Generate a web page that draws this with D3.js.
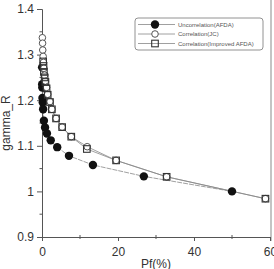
<!DOCTYPE html>
<html>
<head>
<meta charset="utf-8">
<script src="https://cdn.jsdelivr.net/npm/d3@7"></script>
<style>
body{margin:0;background:#fff;}
text{font-family:"Liberation Sans",Arial,sans-serif;}
</style>
</head>
<body>
<div id="chart"></div>
<script>
// data
var uncorrPf = [0.03, 0.05, 0.08, 0.12, 0.2, 0.3, 0.5, 0.8, 1.3, 2.3, 4.0, 7.1, 13.4, 26.8, 50];
var uncorrG  = [1.272, 1.235, 1.228, 1.205, 1.195, 1.180, 1.155, 1.140, 1.127, 1.112, 1.097, 1.078, 1.058, 1.033, 1.000];

var jcPf = [0.1, 0.15, 0.2, 0.3, 0.4, 0.5, 0.7, 0.9, 1.2, 1.5, 2.1, 2.6, 3.7, 5.3, 7.7, 11.9, 19.5, 32.8, 58.8];
var jcG  = [1.337, 1.325, 1.31, 1.296, 1.283, 1.27, 1.255, 1.242, 1.228, 1.213, 1.197, 1.180, 1.160, 1.141, 1.120, 1.098, 1.068, 1.032, 0.984];

var impPf = [0.3, 0.4, 0.5, 0.7, 0.9, 1.2, 1.5, 2.1, 2.6, 3.7, 5.3, 7.7, 11.8, 19.5, 32.8, 58.8];
var impG  = [1.285, 1.275, 1.262, 1.25, 1.24, 1.226, 1.212, 1.196, 1.180, 1.160, 1.141, 1.120, 1.093, 1.068, 1.032, 0.984];

var legendNames = ["Uncorrelation(AFDA)", "Correlation(JC)", "Correlation(Improved AFDA)"];
var xTicks = [0, 20, 40, 60];
var yTicks = [0.9, 1, 1.1, 1.2, 1.3, 1.4];

var margin = {top: 9, right: 4, bottom: 32, left: 42},
    width = 274 - margin.left - margin.right,
    height = 269 - margin.top - margin.bottom;

var svg = d3.select("#chart").append("svg")
    .attr("width", 274)
    .attr("height", 269)
  .append("g")
    .attr("transform", "translate(" + margin.left + "," + margin.top + ")");

var x = d3.scaleLinear().domain([0, 60]).range([0, 228]);
var y = d3.scaleLinear().domain([0.9, 1.4]).range([228, 0]);

var axisCol = "#555";

// faint right edge
svg.append("line")
  .attr("x1", x(60) + 1).attr("x2", x(60) + 1)
  .attr("y1", -margin.top).attr("y2", y(0.9) + 4)
  .attr("stroke", "#c4c4c4").attr("stroke-width", 2);

// left and bottom axes
var xAxis = svg.append("g")
    .attr("transform", "translate(0," + y(0.9) + ")")
    .call(d3.axisBottom(x).tickValues(xTicks).tickSize(4).tickFormat(d3.format("d")));
var yAxis = svg.append("g")
    .call(d3.axisLeft(y).tickValues(yTicks).tickSize(5).tickFormat(function(d){ return d === 1 ? "1" : d3.format(".1f")(d); }));

[xAxis, yAxis].forEach(function(a){
  a.select(".domain").attr("stroke", axisCol);
  a.selectAll(".tick line").attr("stroke", axisCol);
  a.selectAll(".tick text").attr("fill", "#333").style("font-size", "12px");
});
xAxis.selectAll(".tick text").attr("dy", "1.0em");

// minor ticks
svg.append("g").selectAll("line")
  .data([10, 30, 50]).enter().append("line")
  .attr("x1", function(d){ return x(d); }).attr("x2", function(d){ return x(d); })
  .attr("y1", y(0.9) - 2).attr("y2", y(0.9) + 2)
  .attr("stroke", axisCol);
svg.append("g").selectAll("line")
  .data([0.95, 1.05, 1.15, 1.25, 1.35]).enter().append("line")
  .attr("x1", -2.5).attr("x2", 0)
  .attr("y1", function(d){ return y(d); }).attr("y2", function(d){ return y(d); })
  .attr("stroke", axisCol);

// axis labels
svg.append("text")
  .attr("x", x(30)).attr("y", y(0.9) + 31)
  .attr("text-anchor", "middle")
  .style("font-size", "12px").attr("fill", "#333")
  .text("Pf(%)");
svg.append("text")
  .attr("transform", "translate(" + (-32) + "," + y(1.15) + ")rotate(-90)")
  .attr("text-anchor", "middle")
  .style("font-size", "12px").attr("fill", "#333")
  .text("gamma_R");

var line = d3.line().x(function(d){ return x(d[0]); }).y(function(d){ return y(d[1]); });

var series = [
  {pf: uncorrPf, g: uncorrG, shape: "filled"},
  {pf: jcPf, g: jcG, shape: "circle"},
  {pf: impPf, g: impG, shape: "square"}
];

series.forEach(function(s){
  var pts = s.pf.map(function(p, i){ return [p, s.g[i]]; });
  svg.append("path")
    .datum(pts.slice().sort(function(a, b){ return a[0] - b[0]; }))
    .attr("d", line)
    .attr("fill", "none")
    .attr("stroke", "#888")
    .attr("stroke-width", 0.8)
    .attr("stroke-dasharray", s.shape === "filled" ? "5,1" : null);
  s.pts = pts;
});

function drawMarker(g, shape, cx, cy){
  if (shape === "filled") {
    g.append("circle").attr("cx", cx).attr("cy", cy).attr("r", 4.2).attr("fill", "#111");
  } else if (shape === "circle") {
    g.append("circle").attr("cx", cx).attr("cy", cy).attr("r", 3.3)
      .attr("fill", "#fff").attr("stroke", "#555").attr("stroke-width", 1);
  } else {
    g.append("rect").attr("x", cx - 3.3).attr("y", cy - 3.3).attr("width", 6.6).attr("height", 6.6)
      .attr("fill", "none").attr("stroke", "#333").attr("stroke-width", 1.1);
  }
}

var marks = svg.append("g");
series.forEach(function(s){
  s.pts.forEach(function(p){ drawMarker(marks, s.shape, x(p[0]), y(p[1])); });
});

// legend
var leg = svg.append("g").attr("transform", "translate(" + 93 + "," + 9 + ")");
leg.append("rect")
  .attr("x", 0).attr("y", 0).attr("width", 128).attr("height", 32).attr("rx", 3)
  .attr("fill", "#fff").attr("stroke", "#777").attr("stroke-width", 0.8);
legendNames.forEach(function(name, i){
  var ly = 6.5 + i * 9.5;
  leg.append("line").attr("x1", 3).attr("x2", 40).attr("y1", ly).attr("y2", ly)
    .attr("stroke", "#888").attr("stroke-width", 0.8);
  drawMarker(leg, series[i].shape, 20, ly);
  leg.append("text").attr("x", 43).attr("y", ly + 2.2)
    .style("font-size", "6px").attr("fill", "#555").text(name);
});
</script>
</body>
</html>
